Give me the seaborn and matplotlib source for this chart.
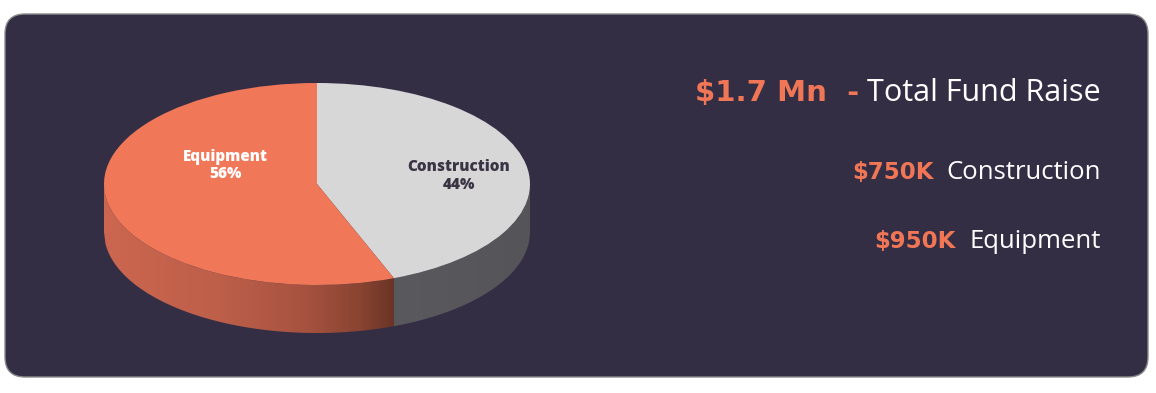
#!/usr/bin/env python
''' Fund raise split: 3D-style pie with a text summary on a dark card.
'''

import numpy as np
import seaborn as sns
import matplotlib.pyplot as plt
from matplotlib.patches import FancyBboxPatch, Polygon
from matplotlib.colors import LinearSegmentedColormap

# Data.
categories = ['Construction', 'Equipment']
amounts_k = [750, 950]
top_colors = ['#d7d7d7', '#f07859']
label_colors = ['#3b3445', '#ffffff']

PANEL = '#342e45'
ORANGE = '#f07656'


def draw_side(ax, xa, xb, depth, cmap):
    ''' Fill the visible rim of the pie between xa and xb with a gradient.
    '''
    xs = np.linspace(xa, xb, 200)
    top = -np.sqrt(np.clip(1 - xs ** 2, 0, None))
    bottom = top - depth
    verts = np.vstack([np.column_stack([xs, top]),
                       np.column_stack([xs[::-1], bottom[::-1]])])
    poly = Polygon(verts, closed=True, transform=ax.transData,
                   facecolor='none', edgecolor='none')
    ax.add_patch(poly)
    grad = np.linspace(0, 1, 256).reshape(1, -1)
    im = ax.imshow(grad, cmap=cmap, aspect='auto',
                   extent=(xa, xb, -1 - depth, 0), zorder=1)
    im.set_clip_path(poly)


def draw_row(fig, bg, y, value_text, label_text, size, vsize, gap,
             x_right=1101):
    ''' Right-aligned row: orange bold amount then white label.
    '''
    renderer = fig.canvas.get_renderer()
    t = bg.text(x_right, y, label_text, color='white', fontsize=size,
                family=['Open Sans', 'DejaVu Sans'], fontweight='normal',
                ha='right', va='baseline')
    bb = t.get_window_extent(renderer).transformed(bg.transData.inverted())
    left = min(bb.x0, bb.x1)
    bg.text(left - gap, y, value_text, color=ORANGE, fontsize=vsize,
            family=['DejaVu Sans'], fontweight='bold',
            ha='right', va='baseline')


def main():
    sns.set_theme(style='white')
    plt.rcParams['font.family'] = ['Lato', 'DejaVu Sans']

    fig = plt.figure(figsize=(11.56, 3.93), dpi=100)
    fig.patch.set_facecolor('white')

    # Background axes in pixel units for the card and the text.
    bg = fig.add_axes([0, 0, 1, 1])
    bg.set_xlim(0, 1156)
    bg.set_ylim(393, 0)
    bg.axis('off')
    bg.add_patch(FancyBboxPatch((5, 14), 1143, 363,
                                boxstyle='round,pad=0,rounding_size=20',
                                facecolor=PANEL, edgecolor='#8a8a8a',
                                linewidth=1.0))

    # Pie axes: ellipse centre (317, 184), a=213, b=101, depth 48 px.
    depth = 48 / 101
    ax = fig.add_axes([104 / 1156, (393 - 333) / 393, 426 / 1156, 250 / 393])
    ax.patch.set_alpha(0)

    total = sum(amounts_k)
    split_angle = np.deg2rad(90 - 360 * amounts_k[0] / total)
    split_x = np.cos(split_angle)

    equip_side = LinearSegmentedColormap.from_list(
        'equip', [(0, '#cc6650'), (0.4, '#bd5f49'), (0.7, '#a65240'),
                  (0.88, '#8a4432'), (1, '#6a3427')])
    constr_side = LinearSegmentedColormap.from_list(
        'constr', ['#5a595e', '#555459'])
    draw_side(ax, -1, split_x, depth, equip_side)
    draw_side(ax, split_x, 1, depth, constr_side)

    wedges, _ = ax.pie(amounts_k, colors=top_colors, startangle=90,
                       counterclock=False, radius=1, center=(0, 0),
                       wedgeprops=dict(linewidth=0))
    for w in wedges:
        w.set_zorder(2)
    ax.set_aspect('auto')
    ax.set_xlim(-1, 1)
    ax.set_ylim(-1 - depth, 1)
    ax.axis('off')

    # Slice labels.
    label_pos = [(0.667, 0.08), (-0.43, 0.18)]
    for name, amt, col, (lx, ly) in zip(categories, amounts_k,
                                        label_colors, label_pos):
        ax.text(lx, ly, f'{name}\n{amt / total:.0%}', color=col,
                fontsize=11, family=['Open Sans', 'DejaVu Sans'],
                fontweight='heavy', ha='center', va='center',
                linespacing=1.1, zorder=3)

    # Summary text on the right.
    draw_row(fig, bg, 101, f'${total / 1000:.1f} Mn  -', 'Total Fund Raise',
             22, 21, 8)
    draw_row(fig, bg, 179, f'${amounts_k[0]}K', categories[0], 18.5, 16.5, 13)
    draw_row(fig, bg, 248, f'${amounts_k[1]}K', categories[1], 18.5, 16.5, 14)

    fig.savefig('out.png', dpi=100, facecolor='white')


if __name__ == '__main__':
    main()
